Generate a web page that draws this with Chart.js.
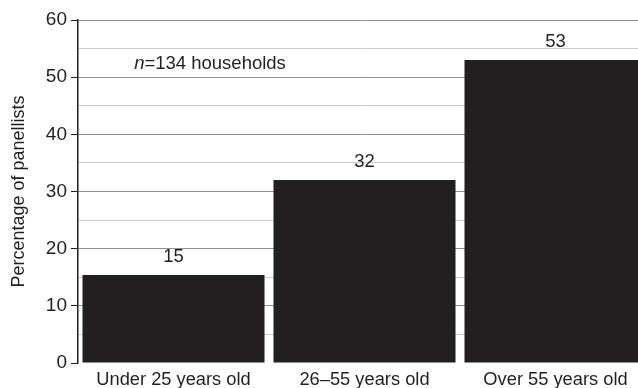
<!DOCTYPE html>
<html>
<head>
<meta charset="utf-8">
<script src="https://cdn.jsdelivr.net/npm/chart.js@4"></script>
<style>
  html, body { margin: 0; padding: 0; background: #fff; overflow: hidden; }
  #wrap { position: relative; width: 651px; height: 388px; }
</style>
</head>
<body>
<div id="wrap"><canvas id="c"></canvas></div>
<script>
const categories = ["Under 25 years old", "26\u201355 years old", "Over 55 years old"];
const percentages = [15.4, 32, 53];
const valueLabels = ["15", "32", "53"];
const yTicks = [0, 10, 20, 30, 40, 50, 60];
const yTitle = "Percentage of panellists";
const noteItalic = "n";
const noteRest = "=134 households";

const INK = '#231f20';
const FONT = "'Liberation Sans', Arial, Helvetica, sans-serif";

const labelPlugin = {
  id: 'valueLabels',
  afterDatasetsDraw(chart) {
    const ctx = chart.ctx;
    const meta = chart.getDatasetMeta(0);
    ctx.save();
    ctx.fillStyle = INK;
    ctx.font = "18.5px " + FONT;
    ctx.textAlign = 'center';
    ctx.textBaseline = 'middle';
    meta.data.forEach((bar, i) => {
      ctx.fillText(valueLabels[i], bar.x, bar.y - 18);
    });
    // sample-size note
    const ys = chart.scales.y;
    const x = chart.chartArea.left + 132;
    const y = ys.getPixelForValue(51.5);
    ctx.textBaseline = 'alphabetic';
    ctx.textAlign = 'left';
    ctx.font = "italic 18.5px " + FONT;
    const w1 = ctx.measureText(noteItalic).width;
    ctx.font = "18.5px " + FONT;
    const w2 = ctx.measureText(noteRest).width;
    const start = x - (w1 + w2) / 2;
    ctx.font = "italic 18.5px " + FONT;
    ctx.fillText(noteItalic, start, y);
    ctx.font = "18.5px " + FONT;
    ctx.fillText(noteRest, start + w1, y);
    ctx.restore();
  }
};

new Chart(document.getElementById('c'), {
  type: 'bar',
  data: {
    labels: categories,
    datasets: [{
      data: percentages,
      backgroundColor: INK,
      borderWidth: 0,
      barPercentage: 0.953,
      categoryPercentage: 1.0
    }]
  },
  options: {
    responsive: true,
    maintainAspectRatio: false,
    animation: false,
    layout: { padding: { left: 0, right: 0, top: 20, bottom: 0 } },
    plugins: { legend: { display: false }, tooltip: { enabled: false } },
    scales: {
      x: {
        grid: { display: false, drawTicks: false },
        border: { display: false },
        ticks: { color: INK, font: { family: FONT, size: 18.3 }, padding: 6, maxRotation: 0 },
        afterFit(s) { s.height = 25; }
      },
      y: {
        min: 0,
        max: 60,
        ticks: {
          stepSize: 5,
          color: INK,
          font: { family: FONT, size: 19 },
          padding: 4,
          callback: (v) => yTicks.includes(v) ? String(v) : ''
        },
        grid: {
          color: (c) => (c.tick && c.tick.value === 0) ? 'rgba(0,0,0,0)' : (c.tick && c.tick.value % 10 === 0 ? '#8e8e8e' : '#cdcdcd'),
          tickColor: (c) => (c.tick && c.tick.value % 10 === 0) ? INK : 'rgba(0,0,0,0)',
          tickLength: 7,
          lineWidth: 1
        },
        border: { display: true, color: INK, width: 1.5 },
        title: {
          display: true,
          text: yTitle,
          color: INK,
          font: { family: FONT, size: 18 },
          padding: { top: 8, bottom: 0 }
        },
        afterFit(s) { s.width = 78; }
      }
    }
  },
  plugins: [labelPlugin]
});
</script>
</body>
</html>
